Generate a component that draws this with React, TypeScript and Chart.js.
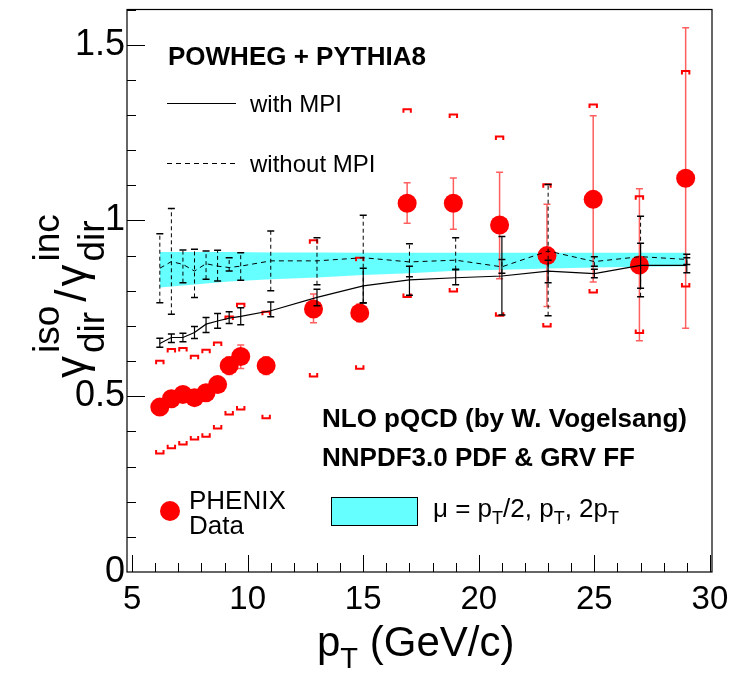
import React, { useEffect, useRef } from "react";
import { Chart, registerables } from "chart.js";
Chart.register(...registerables);

const FONT = '"Liberation Sans", Arial, Helvetica, sans-serif';

// PHENIX data
const phenixPt = [6.2, 6.7, 7.2, 7.7, 8.2, 8.7, 9.2, 9.7, 10.8, 12.85, 14.85, 16.9, 18.9, 20.9, 22.95, 24.95, 26.95, 28.95];
const phenixVal = [0.469, 0.493, 0.505, 0.496, 0.51, 0.533, 0.587, 0.613, 0.587, 0.748, 0.737, 1.049, 1.049, 0.987, 0.9, 1.06, 0.873, 1.12];
const phenixStatLo = [0.45, 0.475, 0.487, 0.478, 0.49, 0.512, 0.562, 0.579, 0.562, 0.709, 0.712, 0.992, 0.975, 0.834, 0.755, 0.825, 0.658, 0.693];
const phenixStatHi = [0.49, 0.51, 0.523, 0.514, 0.53, 0.554, 0.612, 0.646, 0.612, 0.791, 0.762, 1.107, 1.121, 1.137, 1.046, 1.298, 1.09, 1.548];
const phenixSysLo = [0.337, 0.352, 0.363, 0.377, 0.385, 0.408, 0.448, 0.462, 0.437, 0.556, 0.578, 0.782, 0.798, 0.729, 0.698, 0.795, 0.68, 0.812];
const phenixSysHi = [0.601, 0.634, 0.637, 0.615, 0.632, 0.653, 0.727, 0.763, 0.74, 0.944, 0.894, 1.316, 1.301, 1.239, 1.103, 1.33, 1.069, 1.425];

// POWHEG + PYTHIA8
const modelPt = [6.2, 6.7, 7.2, 7.7, 8.2, 8.7, 9.2, 9.7, 11, 13, 15, 17, 19, 21, 23, 25, 27, 29];
const mpiVal = [0.65, 0.667, 0.667, 0.681, 0.705, 0.714, 0.722, 0.727, 0.743, 0.781, 0.814, 0.831, 0.837, 0.842, 0.856, 0.849, 0.872, 0.872];
const mpiLo = [0.639, 0.653, 0.655, 0.664, 0.681, 0.693, 0.707, 0.703, 0.726, 0.757, 0.765, 0.787, 0.817, 0.731, 0.823, 0.837, 0.807, 0.851];
const mpiHi = [0.665, 0.677, 0.679, 0.698, 0.724, 0.735, 0.74, 0.752, 0.768, 0.804, 0.864, 0.87, 0.861, 0.954, 0.887, 0.861, 0.935, 0.894];
const noMpiVal = [0.864, 0.883, 0.875, 0.856, 0.877, 0.87, 0.866, 0.87, 0.885, 0.885, 0.894, 0.882, 0.887, 0.868, 0.913, 0.883, 0.897, 0.889];
const noMpiLo = [0.766, 0.733, 0.823, 0.781, 0.833, 0.828, 0.856, 0.83, 0.8, 0.817, 0.766, 0.84, 0.86, 0.85, 0.729, 0.87, 0.783, 0.875];
const noMpiHi = [0.962, 1.034, 0.916, 0.918, 0.913, 0.915, 0.894, 0.908, 0.97, 0.951, 1.015, 0.934, 0.951, 0.889, 1.102, 0.897, 1.012, 0.904];

// NLO pQCD band
const bandPt = [6.2, 7.7, 9.2, 11, 13, 15, 17, 19, 21, 23, 25, 27, 29];
const bandLo = [0.809, 0.818, 0.826, 0.833, 0.838, 0.845, 0.85, 0.857, 0.86, 0.863, 0.866, 0.868, 0.87];
const bandHi = [0.91, 0.91, 0.91, 0.909, 0.909, 0.908, 0.908, 0.908, 0.908, 0.908, 0.908, 0.908, 0.908];

// axes
const xMin = 4.78;
const xMax = 30.09;
const yMin = 0;
const yMax = 1.6;
const xLabelTicks = [5, 10, 15, 20, 25, 30];
const yLabelTicks = [0, 0.5, 1, 1.5];
const xMinorTicks = Array.from({ length: 26 }, (_, i) => 5 + i);
const yMinorTicks = Array.from({ length: 16 }, (_, i) => (i + 1) / 10);

const CYAN = "rgb(102,255,255)";
const RED = "rgb(255,0,0)";
const LIGHTRED = "rgb(255,95,95)";

const pts = (xs: number[], ys: number[]) => xs.map((x, i) => ({ x, y: ys[i] }));
const segs = (xs: number[], lo: number[], hi: number[]) => {
  const out: any[] = [];
  xs.forEach((x, i) => {
    out.push({ x, y: lo[i] }, { x, y: hi[i] }, { x, y: null });
  });
  return out;
};

type Seg = { t?: string; size: number; shift?: number; bold?: boolean; sup?: string; sub?: string; supShift?: number; subShift?: number; gap?: number };

function drawRich(ctx: CanvasRenderingContext2D, list: Seg[]) {
  let x = 0;
  for (const s of list) {
    ctx.font = `${s.bold ? "bold " : ""}${s.size}px ${FONT}`;
    if (s.sup !== undefined || s.sub !== undefined) {
      let w = 0;
      if (s.sup) {
        ctx.fillText(s.sup, x, -(s.supShift || 0));
        w = Math.max(w, ctx.measureText(s.sup).width);
      }
      if (s.sub) {
        ctx.fillText(s.sub, x, s.subShift || 0);
        w = Math.max(w, ctx.measureText(s.sub).width);
      }
      x += w;
    } else {
      ctx.fillText(s.t || "", x, -(s.shift || 0));
      x += ctx.measureText(s.t || "").width;
    }
    x += s.gap || 0;
  }
}

const STAT_INDEX = 2;

const overlay = {
  id: "overlay",
  afterDatasetDraw(chart: any, args: any) {
    if (args.index !== STAT_INDEX) return;
    const { ctx, scales } = chart;
    const xs = scales.x;
    const ys = scales.y;
    ctx.save();
    ctx.strokeStyle = RED;
    ctx.lineWidth = 2;
    const hw = 3.7;
    const leg = 3.5;
    phenixPt.forEach((p, i) => {
      const px = xs.getPixelForValue(p);
      const hi = ys.getPixelForValue(phenixSysHi[i]);
      const lo = ys.getPixelForValue(phenixSysLo[i]);
      ctx.beginPath();
      ctx.moveTo(px - hw, hi + leg);
      ctx.lineTo(px - hw, hi);
      ctx.lineTo(px + hw, hi);
      ctx.lineTo(px + hw, hi + leg);
      ctx.stroke();
      ctx.beginPath();
      ctx.moveTo(px - hw, lo - leg);
      ctx.lineTo(px - hw, lo);
      ctx.lineTo(px + hw, lo);
      ctx.lineTo(px + hw, lo - leg);
      ctx.stroke();
    });
    ctx.restore();
  },
  afterDraw(chart: any) {
    const { ctx, chartArea: a, scales } = chart;
    const xs = scales.x;
    const ys = scales.y;
    ctx.save();
    // frame
    ctx.strokeStyle = "#000";
    ctx.lineWidth = 1.2;
    ctx.strokeRect(a.left, a.top, a.right - a.left, a.bottom - a.top);
    // ticks
    ctx.lineWidth = 1;
    ctx.beginPath();
    xMinorTicks.forEach((v) => {
      const px = Math.round(xs.getPixelForValue(v)) + 0.5;
      const len = v % 5 === 0 ? 17 : 9;
      ctx.moveTo(px, a.bottom);
      ctx.lineTo(px, a.bottom - len);
    });
    yMinorTicks.forEach((v, i) => {
      const py = Math.round(ys.getPixelForValue(v)) + 0.5;
      const len = (i + 1) % 5 === 0 ? 18 : 9;
      ctx.moveTo(a.left, py);
      ctx.lineTo(a.left + len, py);
    });
    ctx.stroke();

    ctx.fillStyle = "#000";
    ctx.textBaseline = "alphabetic";
    ctx.textAlign = "left";

    // POWHEG legend
    ctx.font = `bold 26px ${FONT}`;
    ctx.fillText("POWHEG + PYTHIA8", 168, 65);
    ctx.lineWidth = 1;
    ctx.beginPath();
    ctx.moveTo(167, 103.5);
    ctx.lineTo(236, 103.5);
    ctx.stroke();
    ctx.setLineDash([5, 4]);
    ctx.beginPath();
    ctx.moveTo(167, 163.5);
    ctx.lineTo(236, 163.5);
    ctx.stroke();
    ctx.setLineDash([]);
    ctx.font = `24px ${FONT}`;
    ctx.fillText("with MPI", 250, 112);
    ctx.fillText("without MPI", 250, 172);

    // NLO text
    ctx.font = `bold 26px ${FONT}`;
    ctx.fillText("NLO pQCD (by W. Vogelsang)", 322, 427);
    ctx.fillText("NNPDF3.0 PDF & GRV FF", 322, 466);

    // PHENIX legend
    ctx.fillStyle = RED;
    ctx.beginPath();
    ctx.arc(170, 511, 10, 0, Math.PI * 2);
    ctx.fill();
    ctx.fillStyle = "#000";
    ctx.font = `26px ${FONT}`;
    ctx.fillText("PHENIX", 189, 509);
    ctx.fillText("Data", 189, 534);

    // band legend
    ctx.fillStyle = CYAN;
    ctx.fillRect(331, 497, 86, 28);
    ctx.strokeStyle = "#000";
    ctx.lineWidth = 1;
    ctx.strokeRect(331.5, 497.5, 86, 28);
    ctx.fillStyle = "#000";
    ctx.save();
    ctx.translate(433, 517);
    drawRich(ctx, [
      { t: "\u03bc = p", size: 26 },
      { sub: "T", size: 18, subShift: 7 },
      { t: "/2, p", size: 26 },
      { sub: "T", size: 18, subShift: 7 },
      { t: ", 2p", size: 26 },
      { sub: "T", size: 18, subShift: 7 },
    ]);
    ctx.restore();

    // x title
    ctx.save();
    ctx.translate(317, 656);
    drawRich(ctx, [
      { t: "p", size: 42 },
      { sub: "T", size: 29, subShift: 12 },
      { t: " (GeV/c)", size: 42 },
    ]);
    ctx.restore();

    // y title
    ctx.save();
    ctx.translate(86, 378);
    ctx.rotate(-Math.PI / 2);
    drawRich(ctx, [
      { t: "\u03b3", size: 44, gap: 3 },
      { sup: "iso", sub: "dir", size: 37, supShift: 27, subShift: 18, gap: 4 },
      { t: "/", size: 44, gap: 3 },
      { t: "\u03b3", size: 44, gap: 3 },
      { sup: "inc", sub: "dir", size: 37, supShift: 27, subShift: 18 },
    ]);
    ctx.restore();

    ctx.restore();
  },
};

export default function App() {
  const ref = useRef<HTMLCanvasElement | null>(null);
  useEffect(() => {
    if (!ref.current) return;
    const chart = new Chart(ref.current, {
      type: "line",
      data: {
        datasets: [
          {
            data: pts(bandPt, bandLo),
            borderWidth: 0,
            borderColor: "rgba(0,0,0,0)",
            pointRadius: 0,
            fill: false,
            order: 10,
          } as any,
          {
            data: pts(bandPt, bandHi),
            borderWidth: 0,
            borderColor: "rgba(0,0,0,0)",
            backgroundColor: CYAN,
            pointRadius: 0,
            fill: "-1",
            order: 9,
          },
          {
            data: segs(phenixPt, phenixStatLo, phenixStatHi),
            borderColor: LIGHTRED,
            borderWidth: 1.5,
            pointStyle: "line",
            pointRadius: 3.5,
            pointBorderColor: LIGHTRED,
            pointBorderWidth: 1.5,
            spanGaps: false,
            fill: false,
            order: 8,
          },
          {
            data: pts(phenixPt, phenixVal),
            showLine: false,
            pointRadius: 9.5,
            pointBackgroundColor: RED,
            pointBorderWidth: 0,
            pointBorderColor: RED,
            order: 7,
          },
          {
            data: segs(modelPt, noMpiLo, noMpiHi),
            borderColor: "#000",
            borderWidth: 1,
            borderDash: [4, 3],
            pointStyle: "line",
            pointRadius: 3.5,
            pointBorderColor: "#000",
            pointBorderWidth: 1.5,
            spanGaps: false,
            fill: false,
            order: 6,
          },
          {
            data: pts(modelPt, noMpiVal),
            borderColor: "#000",
            borderWidth: 1,
            borderDash: [5, 4],
            pointRadius: 0,
            fill: false,
            order: 5,
          },
          {
            data: segs(modelPt, mpiLo, mpiHi),
            borderColor: "#000",
            borderWidth: 1.2,
            pointStyle: "line",
            pointRadius: 3.5,
            pointBorderColor: "#000",
            pointBorderWidth: 1.5,
            spanGaps: false,
            fill: false,
            order: 4,
          },
          {
            data: pts(modelPt, mpiVal),
            borderColor: "#000",
            borderWidth: 1.2,
            pointRadius: 0,
            fill: false,
            order: 3,
          },
        ],
      },
      options: {
        animation: false,
        responsive: false,
        devicePixelRatio: 1,
        layout: { padding: { left: 0, top: 7, right: 18, bottom: 0 } },
        plugins: {
          legend: { display: false },
          tooltip: { enabled: false },
        },
        elements: { line: { tension: 0 } },
        scales: {
          x: {
            type: "linear",
            min: xMin,
            max: xMax,
            grid: { display: false, drawTicks: false },
            border: { display: false },
            afterBuildTicks: (s: any) => {
              s.ticks = xLabelTicks.map((v) => ({ value: v }));
            },
            afterFit: (s: any) => {
              s.height = 103;
              s.paddingLeft = 0;
              s.paddingRight = 0;
              s.paddingTop = 0;
              s.paddingBottom = 0;
            },
            ticks: {
              color: "#000",
              font: { size: 33, family: FONT },
              padding: 8,
              maxRotation: 0,
              autoSkip: false,
              callback: (v: any) => String(v),
            },
          },
          y: {
            type: "linear",
            min: yMin,
            max: yMax,
            grid: { display: false, drawTicks: false },
            border: { display: false },
            afterBuildTicks: (s: any) => {
              s.ticks = yLabelTicks.map((v) => ({ value: v }));
            },
            afterFit: (s: any) => {
              s.width = 127;
              s.paddingLeft = 0;
              s.paddingRight = 0;
              s.paddingTop = 0;
              s.paddingBottom = 0;
            },
            ticks: {
              color: "#000",
              font: { size: 36, family: FONT },
              padding: 2,
              autoSkip: false,
              callback: (v: any) => String(v),
            },
          },
        },
      },
      plugins: [overlay],
    } as any);
    return () => chart.destroy();
  }, []);
  return (
    <div style={{ position: "absolute", left: 0, top: 0, width: 730, height: 675 }}>
      <canvas ref={ref} width={730} height={675} style={{ display: "block", width: 730, height: 675 }} />
    </div>
  );
}
